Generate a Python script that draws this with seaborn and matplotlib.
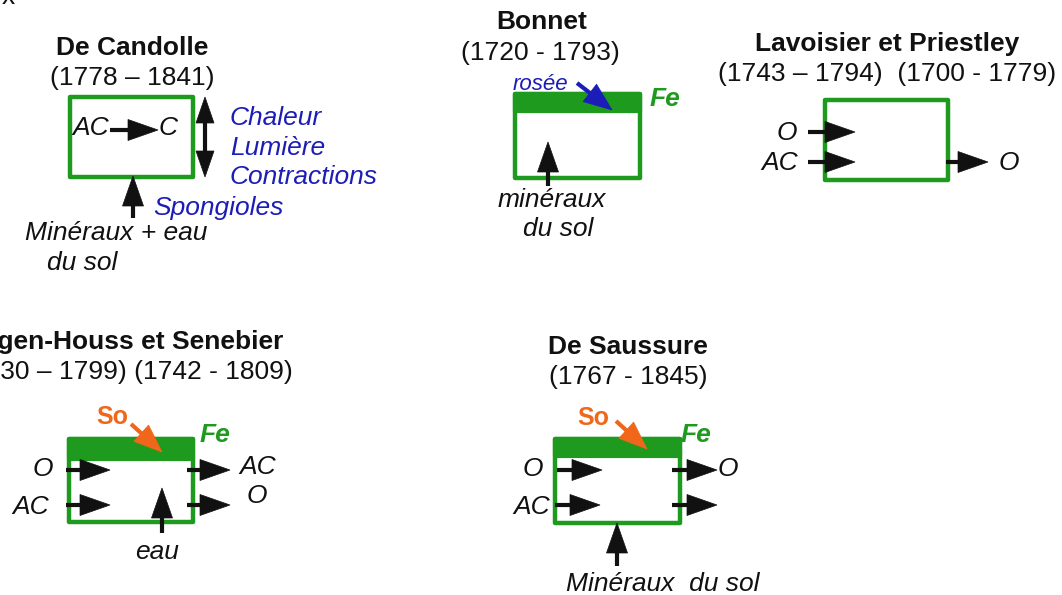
import matplotlib
matplotlib.use("Agg")
import matplotlib.pyplot as plt
import seaborn as sns
from matplotlib.patches import Rectangle, Polygon
import numpy as np

sns.set_theme(style="white")
plt.rcParams['font.family'] = ['Liberation Sans', 'DejaVu Sans']

GREEN = '#1e9a1e'
BLUE = '#1c1cb8'
ORANGE = '#f0661a'
BLACK = '#111111'

# panel headers
names = ["De Candolle", "Bonnet", "Lavoisier et Priestley",
         "Ingen-Houss et Senebier", "De Saussure"]
years = ["(1778 – 1841)", "(1720 - 1793)", "(1743 – 1794)  (1700 - 1779)",
         "(1730 – 1799) (1742 - 1809)", "(1767 - 1845)"]
name_pos = [(132, 48, 'center'), (542, 22, 'center'), (887, 44, 'center'),
            (283, 342, 'right'), (628, 347, 'center')]
year_pos = [(132, 78, 'center'), (540, 53, 'center'), (887, 74, 'center'),
            (293, 372, 'right'), (628, 377, 'center')]

# leaf boxes: x0, y0, x1, y1, bottom of the thick top band (None = no band)
boxes = [(70, 97, 193, 177, None),
         (515, 94, 640, 178, 111),
         (825, 100, 948, 180, None),
         (69, 439, 193, 522, 459),
         (555, 439, 680, 523, 456)]

# arrows: start, end, colour, double-headed
arrows = [
    ((110, 130), (158, 130), BLACK, False),
    ((205, 97), (205, 177), BLACK, True),
    ((133, 218), (133, 176), BLACK, False),
    ((577, 83), (612, 110), BLUE, False),
    ((548, 186), (548, 142), BLACK, False),
    ((808, 132), (855, 132), BLACK, False),
    ((808, 162), (855, 162), BLACK, False),
    ((946, 162), (988, 162), BLACK, False),
    ((131, 424), (162, 452), ORANGE, False),
    ((66, 470), (110, 470), BLACK, False),
    ((66, 505), (110, 505), BLACK, False),
    ((187, 470), (230, 470), BLACK, False),
    ((187, 505), (230, 505), BLACK, False),
    ((162, 533), (162, 488), BLACK, False),
    ((616, 421), (647, 449), ORANGE, False),
    ((557, 470), (602, 470), BLACK, False),
    ((555, 505), (600, 505), BLACK, False),
    ((672, 470), (717, 470), BLACK, False),
    ((672, 505), (717, 505), BLACK, False),
    ((617, 566), (617, 523), BLACK, False),
]

# labels: text, x, y, ha, colour, size, weight, style
labels = [
    ("x", 8, -3, 'center', BLACK, 19, 'normal', 'normal'),
    ("AC", 91, 128, 'center', BLACK, 19, 'normal', 'italic'),
    ("C", 168, 128, 'center', BLACK, 19, 'normal', 'italic'),
    ("Chaleur", 230, 118, 'left', BLUE, 19, 'normal', 'italic'),
    ("Lumière", 230, 148, 'left', BLUE, 19, 'normal', 'italic'),
    ("Contractions", 230, 177, 'left', BLUE, 19, 'normal', 'italic'),
    ("Spongioles", 153, 208, 'left', BLUE, 19, 'normal', 'italic'),
    ("Minéraux + eau", 116, 233, 'center', BLACK, 19, 'normal', 'italic'),
    ("du sol", 82, 263, 'center', BLACK, 19, 'normal', 'italic'),
    ("rosée", 540, 85, 'center', BLUE, 16, 'normal', 'italic'),
    ("Fe", 665, 99, 'center', GREEN, 19, 'bold', 'italic'),
    ("minéraux", 552, 200, 'center', BLACK, 19, 'normal', 'italic'),
    ("du sol", 558, 229, 'center', BLACK, 19, 'normal', 'italic'),
    ("O", 787, 133, 'center', BLACK, 19, 'normal', 'italic'),
    ("AC", 780, 163, 'center', BLACK, 19, 'normal', 'italic'),
    ("O", 1009, 163, 'center', BLACK, 19, 'normal', 'italic'),
    ("So", 112, 417, 'center', ORANGE, 18, 'bold', 'normal'),
    ("Fe", 215, 435, 'center', GREEN, 19, 'bold', 'italic'),
    ("O", 43, 469, 'center', BLACK, 19, 'normal', 'italic'),
    ("AC", 31, 507, 'center', BLACK, 19, 'normal', 'italic'),
    ("AC", 258, 467, 'center', BLACK, 19, 'normal', 'italic'),
    ("O", 257, 496, 'center', BLACK, 19, 'normal', 'italic'),
    ("eau", 157, 552, 'center', BLACK, 19, 'normal', 'italic'),
    ("So", 593, 418, 'center', ORANGE, 18, 'bold', 'normal'),
    ("Fe", 696, 435, 'center', GREEN, 19, 'bold', 'italic'),
    ("O", 533, 469, 'center', BLACK, 19, 'normal', 'italic'),
    ("AC", 532, 507, 'center', BLACK, 19, 'normal', 'italic'),
    ("O", 728, 469, 'center', BLACK, 19, 'normal', 'italic'),
    ("Minéraux  du sol", 663, 584, 'center', BLACK, 19, 'normal', 'italic'),
]


def head(ax, tip, direction, color, hl, hw):
    d = direction / np.linalg.norm(direction)
    n = np.array([-d[1], d[0]])
    base = tip - d * hl
    pts = [tip, base + n * hw / 2, base - n * hw / 2]
    ax.add_patch(Polygon(pts, closed=True, fc=color, ec=color, lw=0.5, zorder=4))
    return base


def arrow(ax, p0, p1, color, double):
    p0 = np.array(p0, float)
    p1 = np.array(p1, float)
    d = p1 - p0
    u = d / np.linalg.norm(d)
    hl, hw = (30, 21) if color == BLACK else (28, 22)
    if double:
        hl, hw = 26, 18
        a = head(ax, p0, -d, color, hl, hw)
        b = head(ax, p1, d, color, hl, hw)
        ax.plot([a[0], b[0]], [a[1], b[1]], color=color, lw=3, zorder=3)
        return
    b = head(ax, p1, d, color, hl, hw)
    ax.plot([p0[0], b[0] + u[0] * 4], [p0[1], b[1] + u[1] * 4],
            color=color, lw=3, solid_capstyle='butt', zorder=3)


fig = plt.figure(figsize=(10.62, 5.95), dpi=100)
ax = fig.add_axes([0, 0, 1, 1])
ax.set_xlim(0, 1062)
ax.set_ylim(595, 0)
ax.axis('off')

for name, year, (nx, ny, nha), (yx, yy, yha) in zip(names, years, name_pos, year_pos):
    ax.text(nx, ny, name, ha=nha, va='center', fontsize=19, fontweight='bold', color=BLACK)
    ax.text(yx, yy, year, ha=yha, va='center', fontsize=19, color=BLACK)

for x0, y0, x1, y1, band in boxes:
    if band is not None:
        ax.add_patch(Rectangle((x0, y0), x1 - x0, band - y0, fc=GREEN, ec=GREEN,
                               lw=3, joinstyle='round', zorder=2))
    ax.add_patch(Rectangle((x0, y0), x1 - x0, y1 - y0, fill=False, ec=GREEN,
                           lw=3.2, joinstyle='round', zorder=2))

for p0, p1, col, dbl in arrows:
    arrow(ax, p0, p1, col, dbl)

for txt, x, y, ha, col, size, weight, style in labels:
    ax.text(x, y, txt, ha=ha, va='center', color=col, fontsize=size,
            fontweight=weight, fontstyle=style, zorder=5)

fig.savefig("out.png", dpi=100)
